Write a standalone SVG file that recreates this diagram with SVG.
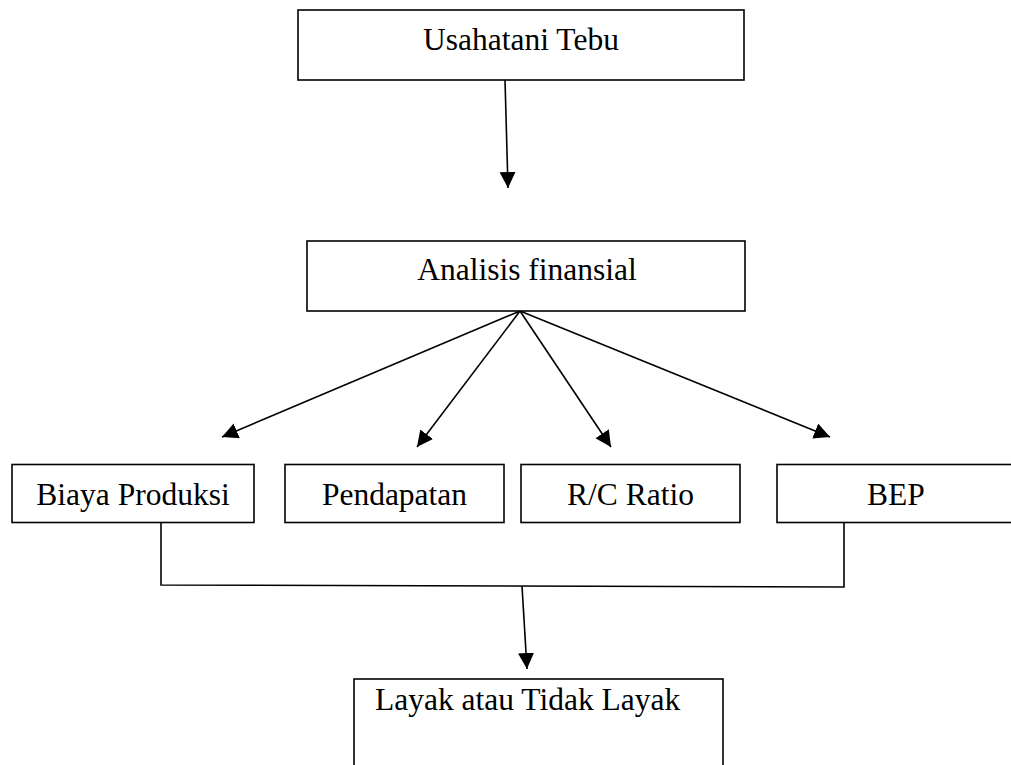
<svg xmlns="http://www.w3.org/2000/svg" width="1011" height="765" viewBox="0 0 1011 765">
<style>
.box{fill:#fff;stroke:#000;stroke-width:1.6}
.t{font-family:"Liberation Serif","Times New Roman",serif;font-size:31.5px;fill:#000}
.c{text-anchor:middle}
.ln{fill:none;stroke:#000;stroke-width:1.6}
</style>
<defs>
<marker id="ah" markerUnits="userSpaceOnUse" markerWidth="18" markerHeight="18" refX="16" refY="8" orient="auto">
<path d="M0,0 L16,8 L0,16 z" fill="#000"/>
</marker>
</defs>
<rect width="1011" height="765" fill="#fff"/>
<g id="connectors">
<line class="ln" x1="505" y1="80" x2="508" y2="188" marker-end="url(#ah)"/>
<line class="ln" x1="520" y1="311" x2="222" y2="437" marker-end="url(#ah)"/>
<line class="ln" x1="520" y1="311" x2="417" y2="447" marker-end="url(#ah)"/>
<line class="ln" x1="520" y1="311" x2="611" y2="447" marker-end="url(#ah)"/>
<line class="ln" x1="520" y1="311" x2="830" y2="437" marker-end="url(#ah)"/>
<polyline class="ln" points="161,523 161,585 844,587 844,523"/>
<line class="ln" x1="522" y1="586" x2="527" y2="669" marker-end="url(#ah)"/>
</g>
<g id="usahatani">
<rect class="box" x="298" y="10" width="446" height="70"/>
<text class="t c" x="521" y="50">Usahatani Tebu</text>
</g>
<g id="analisis">
<rect class="box" x="307" y="241" width="438" height="70"/>
<text class="t c" x="527" y="280">Analisis finansial</text>
</g>
<g id="biaya">
<rect class="box" x="12" y="464.5" width="242" height="58"/>
<text class="t c" x="133" y="505">Biaya Produksi</text>
</g>
<g id="pendapatan">
<rect class="box" x="285" y="464.5" width="219" height="58"/>
<text class="t c" x="394.5" y="505">Pendapatan</text>
</g>
<g id="rc">
<rect class="box" x="521" y="464.5" width="219" height="58"/>
<text class="t c" x="630.5" y="505">R/C Ratio</text>
</g>
<g id="bep">
<rect class="box" x="777" y="464.5" width="238" height="58"/>
<text class="t c" x="896" y="505">BEP</text>
</g>
<g id="layak">
<rect class="box" x="354" y="679" width="369" height="100"/>
<text class="t" x="375" y="710">Layak atau Tidak Layak</text>
</g>
</svg>
